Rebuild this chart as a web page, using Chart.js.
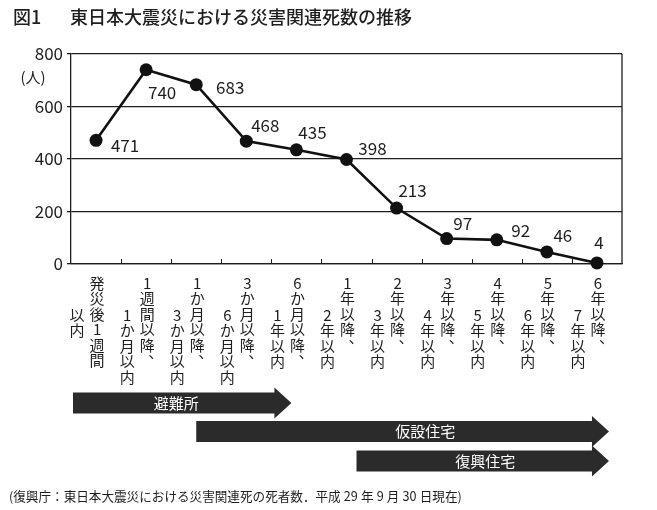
<!DOCTYPE html>
<html>
<head>
<meta charset="utf-8">
<script src="https://cdn.jsdelivr.net/npm/chart.js@4/dist/chart.umd.min.js"></script>
<style>
  html, body { margin: 0; padding: 0; background: #fff; }
  #wrap { width: 657px; height: 510px; position: relative; }
</style>
</head>
<body>
<div id="wrap"><canvas id="chart"></canvas></div>
<script>
// period labels: [right column, left column] for vertical writing
const categories = [
  ["発災後1週間", "以内"],
  ["1週間以降、", "1か月以内"],
  ["1か月以降、", "3か月以内"],
  ["3か月以降、", "6か月以内"],
  ["6か月以降、", "1年以内"],
  ["1年以降、", "2年以内"],
  ["2年以降、", "3年以内"],
  ["3年以降、", "4年以内"],
  ["4年以降、", "5年以内"],
  ["5年以降、", "6年以内"],
  ["6年以降、", "7年以内"]
];
const deaths = [471, 740, 683, 468, 435, 398, 213, 97, 92, 46, 4];
const yTicks = [0, 200, 400, 600, 800];

const phaseNames = ["避難所", "仮設住宅", "復興住宅"];
const phaseFrom = [-0.5, 2, 5.2];
const phaseTo = [3.9, 10.24, 10.24];

const titleText = "東日本大震災における災害関連死数の推移";
const sourceText = "(復興庁：東日本大震災における災害関連死の死者数．平成\u200529\u2005年\u20059\u2005月\u200530\u2005日現在)";

const FONT = '"Noto Sans CJK JP", "Noto Sans", sans-serif';
const INK = "#1e1e1e";

// where each value label sits relative to its point
const labelOffsets = [[29, 5], [16, 23], [34, 3], [19, -16], [16, -17], [26, -11], [16, -18], [16, -15], [24, -9], [16, -16], [2, -20]];
const phaseLabelAt = [1.6, 6.57, 7.77];
const phaseY = [403, 431.5, 461];

function drawVertical(ctx, text, x, y, pitch) {
  [...text].forEach((ch, i) => {
    const cy = y + i * pitch;
    if (ch === "、") {
      ctx.fillText(ch, x + pitch * 0.55, cy - pitch * 0.5);
    } else {
      ctx.fillText(ch, x, cy);
    }
  });
}

function arrow(ctx, x0, x1, cy) {
  const bodyH = 21, headH = 31, headL = 17;
  ctx.beginPath();
  ctx.moveTo(x0, cy - bodyH / 2);
  ctx.lineTo(x1 - headL, cy - bodyH / 2);
  ctx.lineTo(x1 - headL, cy - headH / 2);
  ctx.lineTo(x1, cy);
  ctx.lineTo(x1 - headL, cy + headH / 2);
  ctx.lineTo(x1 - headL, cy + bodyH / 2);
  ctx.lineTo(x0, cy + bodyH / 2);
  ctx.closePath();
  ctx.fill();
}

const extras = {
  id: "extras",
  beforeDatasetsDraw(chart) {
    const { ctx, chartArea: a, scales } = chart;
    ctx.save();
    ctx.strokeStyle = INK;
    ctx.lineWidth = 1.3;
    // right frame line
    ctx.beginPath();
    ctx.moveTo(a.right, a.top);
    ctx.lineTo(a.right, a.bottom);
    ctx.stroke();
    // inward ticks between categories
    ctx.lineWidth = 1;
    for (let i = 0; i < categories.length - 1; i++) {
      const x = Math.round(scales.x.getPixelForValue(i + 0.5)) + 0.5;
      ctx.beginPath();
      ctx.moveTo(x, a.bottom);
      ctx.lineTo(x, a.bottom - 5);
      ctx.stroke();
    }
    ctx.restore();
  },
  afterDraw(chart) {
    const { ctx, chartArea: a, scales } = chart;
    const pts = chart.getDatasetMeta(0).data;
    ctx.save();
    ctx.fillStyle = INK;
    ctx.textAlign = "center";
    ctx.textBaseline = "middle";

    // value labels
    ctx.font = "17px " + FONT;
    pts.forEach((p, i) => {
      ctx.fillText(String(deaths[i]), p.x + labelOffsets[i][0], p.y + labelOffsets[i][1]);
    });

    // vertical category labels
    ctx.font = "15px " + FONT;
    categories.forEach((c, i) => {
      const x = scales.x.getPixelForValue(i);
      drawVertical(ctx, c[0], x + 1, 283, 15.5);
      drawVertical(ctx, c[1], x - 19, 315, 15.5);
    });

    // unit
    ctx.font = "15px " + FONT;
    ctx.fillText("(人)", 33, 77);

    // title
    ctx.textAlign = "left";
    ctx.font = "500 18px " + FONT;
    ctx.fillText("図1", 13, 17);
    ctx.fillText(titleText, 70, 17);

    // source
    ctx.font = "12.6px " + FONT;
    ctx.fillText(sourceText, 9, 496);

    // phase arrows
    ctx.textAlign = "center";
    phaseNames.forEach((name, i) => {
      ctx.fillStyle = "#2b2b2b";
      const x0 = Math.max(scales.x.getPixelForValue(phaseFrom[i]), a.left + 2);
      arrow(ctx, x0, scales.x.getPixelForValue(phaseTo[i]), phaseY[i]);
      ctx.fillStyle = "#fff";
      ctx.font = "15px " + FONT;
      ctx.fillText(name, scales.x.getPixelForValue(phaseLabelAt[i]), phaseY[i]);
    });
    ctx.restore();
  }
};

new Chart(document.getElementById("chart"), {
  type: "line",
  data: {
    labels: categories.map(c => c.join("")),
    datasets: [{
      data: deaths,
      borderColor: "#111",
      borderWidth: 2.6,
      pointRadius: 6.5,
      pointBackgroundColor: "#111",
      pointBorderColor: "#111",
      pointBorderWidth: 0,
      tension: 0,
      clip: false
    }]
  },
  options: {
    responsive: true,
    maintainAspectRatio: false,
    animation: false,
    layout: { padding: { top: 54, right: 35, left: 0, bottom: 0 } },
    plugins: {
      legend: { display: false },
      tooltip: { enabled: false }
    },
    scales: {
      x: {
        offset: true,
        grid: { display: false },
        border: { display: true, color: INK, width: 1.3 },
        ticks: { display: false },
        afterFit(scale) { scale.height = 246; }
      },
      y: {
        min: 0,
        max: 800,
        afterBuildTicks(scale) { scale.ticks = yTicks.map(v => ({ value: v })); },
        grid: { color: INK, lineWidth: 1.3, tickLength: 4 },
        border: { display: true, color: INK, width: 1.3 },
        ticks: { color: INK, padding: 4, font: { family: FONT, size: 17 } },
        afterFit(scale) { scale.width = 71; }
      }
    }
  },
  plugins: [extras]
});
</script>
</body>
</html>
